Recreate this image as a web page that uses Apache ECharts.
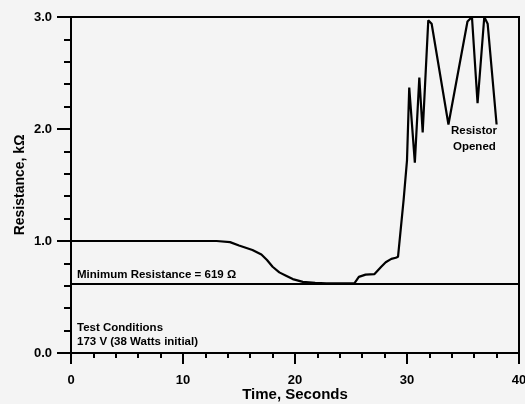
<!DOCTYPE html>
<html>
<head>
<meta charset="utf-8">
<script src="https://cdn.jsdelivr.net/npm/echarts@6/dist/echarts.min.js"></script>
<style>
html,body{margin:0;padding:0;background:#f4f4f4;}
#c{width:525px;height:404px;}
</style>
</head>
<body>
<div id="c"></div>
<script>
const timeSec = [0, 13, 14.2, 15, 16.2, 17, 17.5, 18, 18.6, 19.2, 19.8, 20.7, 21.8, 22.8, 25.3, 25.7, 26.3, 27.1, 27.7, 28.1, 28.6, 29.0, 29.2, 29.7, 30.0, 30.2, 30.7, 31.1, 31.4, 31.9, 32.2, 33.7, 35.4, 35.8, 36.3, 36.9, 37.2, 38.0];
const resistance = [1.0, 1.0, 0.99, 0.96, 0.92, 0.88, 0.83, 0.77, 0.72, 0.69, 0.66, 0.635, 0.627, 0.622, 0.622, 0.68, 0.70, 0.705, 0.77, 0.81, 0.84, 0.85, 0.86, 1.37, 1.72, 2.37, 1.70, 2.46, 1.97, 2.97, 2.94, 2.04, 2.96, 3.0, 2.23, 3.0, 2.94, 2.04];
const minResistance = 0.619;
const xTicks = [0, 10, 20, 30, 40];
const yTicks = [0, 1, 2, 3];

const font = '"Liberation Sans", Arial, sans-serif';
const chart = echarts.init(document.getElementById('c'));
chart.setOption({
  backgroundColor: '#f4f4f4',
  animation: false,
  grid: {left: 71, right: 6, top: 17, bottom: 51, outerBoundsMode: 'none', containLabel: false,
    show: true, borderColor: '#000', borderWidth: 2, backgroundColor: 'transparent'},
  xAxis: {
    type: 'value', min: xTicks[0], max: xTicks[xTicks.length-1], interval: 10,
    name: 'Time, Seconds', nameLocation: 'middle', nameGap: 34, nameMoveOverlap: false,
    nameTextStyle: {fontFamily: font, fontWeight: 'bold', fontSize: 15, color: '#000'},
    axisLine: {show: true, lineStyle: {color: '#000', width: 2}},
    axisTick: {show: true, length: 11, lineStyle: {color: '#000', width: 2}},
    minorTick: {show: true, splitNumber: 5, length: 5, lineStyle: {color: '#000', width: 2}},
    splitLine: {show: false},
    axisLabel: {fontFamily: font, fontWeight: 'bold', fontSize: 13, color: '#000', margin: 21,
      formatter: v => String(v)}
  },
  yAxis: {
    type: 'value', min: yTicks[0], max: yTicks[yTicks.length-1], interval: 1,
    name: 'Resistance, kΩ', nameLocation: 'middle', nameGap: 44, nameMoveOverlap: false,
    nameTextStyle: {fontFamily: font, fontWeight: 'bold', fontSize: 14, color: '#000'},
    axisLine: {show: true, lineStyle: {color: '#000', width: 2}},
    axisTick: {show: true, length: 14, lineStyle: {color: '#000', width: 2}},
    minorTick: {show: true, splitNumber: 5, length: 7, lineStyle: {color: '#000', width: 2}},
    splitLine: {show: false},
    axisLabel: {fontFamily: font, fontWeight: 'bold', fontSize: 13, color: '#000', margin: 19,
      formatter: v => v.toFixed(1)}
  },
  series: [
    {
      type: 'line', data: timeSec.map((t, i) => [t, resistance[i]]),
      symbol: 'none', lineStyle: {color: '#000', width: 2.2}, z: 3,
      markLine: {
        silent: true, symbol: 'none', label: {show: false},
        lineStyle: {color: '#000', width: 2, type: 'solid'},
        data: [{yAxis: minResistance}]
      }
    }
  ],
  graphic: [
    {type: 'text', left: 77, top: 269, style: {text: 'Minimum Resistance = 619 Ω', font: 'bold 11.5px ' + font, fill: '#000'}},
    {type: 'text', left: 77, top: 322, style: {text: 'Test Conditions', font: 'bold 11.5px ' + font, fill: '#000'}},
    {type: 'text', left: 77, top: 336, style: {text: '173 V (38 Watts initial)', font: 'bold 11.5px ' + font, fill: '#000'}},
    {type: 'text', left: 451, top: 125, style: {text: 'Resistor', font: 'bold 11.5px ' + font, fill: '#000'}},
    {type: 'text', left: 453, top: 141, style: {text: 'Opened', font: 'bold 11.5px ' + font, fill: '#000'}}
  ]
});
</script>
</body>
</html>
